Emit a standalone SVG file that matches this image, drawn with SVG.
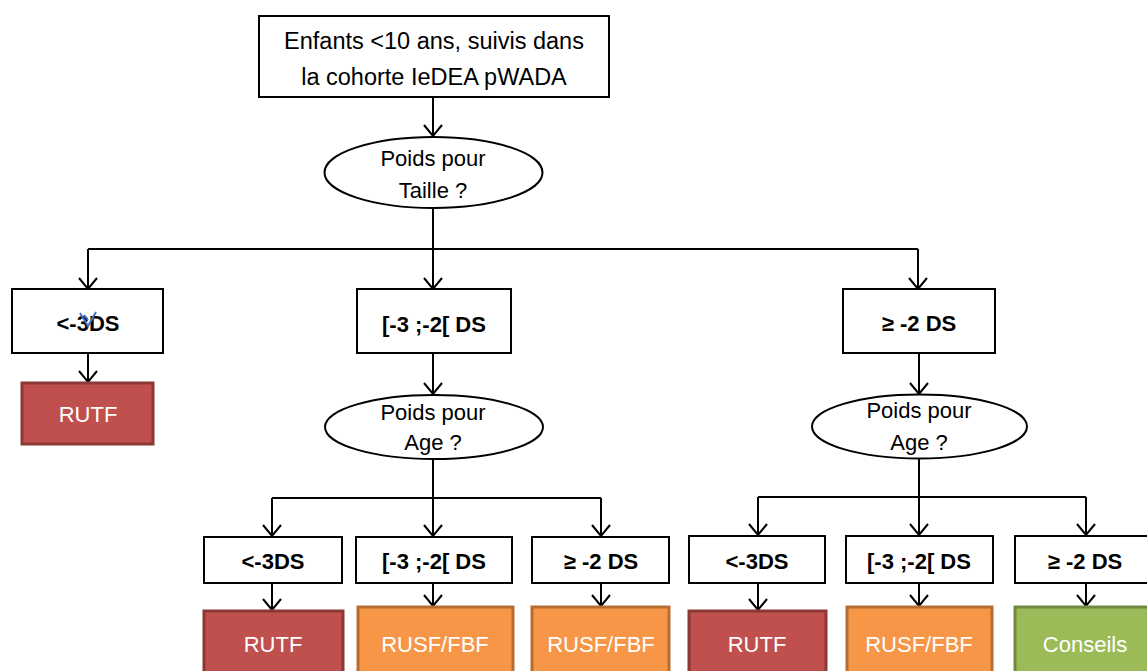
<svg xmlns="http://www.w3.org/2000/svg" width="1147" height="671" viewBox="0 0 1147 671">
<style>
.box{fill:#fff;stroke:#000;stroke-width:2}
.ell{fill:#fff;stroke:#000;stroke-width:2}
.t{font-family:"Liberation Sans",Arial,sans-serif;font-size:22px;fill:#000;text-anchor:middle}
.tl{font-family:"Liberation Sans",Arial,sans-serif;font-size:23.5px;fill:#000;text-anchor:middle}
.b{font-family:"Liberation Sans",Arial,sans-serif;font-size:22px;font-weight:bold;fill:#000;text-anchor:middle}
.w{font-family:"Liberation Sans",Arial,sans-serif;font-size:22px;fill:#fff;text-anchor:middle}
.red{fill:#C0504D;stroke:#8C3836;stroke-width:3}
.org{fill:#F79646;stroke:#B66D31;stroke-width:3}
.grn{fill:#9BBB59;stroke:#71893F;stroke-width:3}
.c{fill:none;stroke:#000;stroke-width:2}
</style>
<defs>
<marker id="arr" markerWidth="24" markerHeight="24" refX="12" refY="12" orient="auto" markerUnits="userSpaceOnUse">
<polyline points="1,3 12,12 1,21" fill="none" stroke="#000" stroke-width="2"/>
</marker>
</defs>
<rect width="1147" height="671" fill="#fff"/>
<g id="connectors">
<path class="c" d="M433,97 V136" marker-end="url(#arr)"/>
<path class="c" d="M433,208 V249"/>
<path class="c" d="M88,249 H918"/>
<path class="c" d="M88,249 V289" marker-end="url(#arr)"/>
<path class="c" d="M433,249 V289" marker-end="url(#arr)"/>
<path class="c" d="M918,249 V289" marker-end="url(#arr)"/>
<path class="c" d="M88,353 V382" marker-end="url(#arr)"/>
<path class="c" d="M433,353 V394" marker-end="url(#arr)"/>
<path class="c" d="M919,353 V394" marker-end="url(#arr)"/>
<path class="c" d="M433,459 V498"/>
<path class="c" d="M272,498 H601"/>
<path class="c" d="M272,498 V536" marker-end="url(#arr)"/>
<path class="c" d="M433,498 V536" marker-end="url(#arr)"/>
<path class="c" d="M601,498 V536" marker-end="url(#arr)"/>
<path class="c" d="M919,458 V497"/>
<path class="c" d="M758,497 H1086"/>
<path class="c" d="M758,497 V535" marker-end="url(#arr)"/>
<path class="c" d="M919,497 V535" marker-end="url(#arr)"/>
<path class="c" d="M1086,497 V535" marker-end="url(#arr)"/>
<path class="c" d="M272,583 V610" marker-end="url(#arr)"/>
<path class="c" d="M433,583 V606" marker-end="url(#arr)"/>
<path class="c" d="M601,583 V606" marker-end="url(#arr)"/>
<path class="c" d="M758,583 V610" marker-end="url(#arr)"/>
<path class="c" d="M919,583 V606" marker-end="url(#arr)"/>
<path class="c" d="M1086,583 V606" marker-end="url(#arr)"/>
</g>
<g id="start">
<rect class="box" x="259" y="16" width="350" height="81"/>
<text class="tl" x="434" y="49">Enfants &lt;10 ans, suivis dans</text>
<text class="tl" x="434" y="85">la cohorte IeDEA pWADA</text>
</g>
<g id="pt">
<ellipse class="ell" cx="433.5" cy="172.5" rx="109" ry="35.5"/>
<text class="t" x="433" y="166">Poids pour</text>
<text class="t" x="433" y="198">Taille ?</text>
</g>
<g id="pt-lt3">
<rect class="box" x="12" y="289" width="151" height="64"/>
<text class="b" x="88" y="331">&lt;-3DS</text>
<path d="M80,313 L88,326 L96,312 M84,315 L88,320" fill="none" stroke="#4472C4" stroke-width="2"/>
</g>
<g id="pt-mid">
<rect class="box" x="357" y="289" width="154" height="64"/>
<text class="b" x="434" y="332">[-3 ;-2[ DS</text>
</g>
<g id="pt-ge2">
<rect class="box" x="843" y="289" width="152" height="64"/>
<text class="b" x="919" y="331">≥ -2 DS</text>
</g>
<g id="rutf1">
<rect class="red" x="22" y="383" width="131" height="61"/>
<text class="w" x="88" y="422">RUTF</text>
</g>
<g id="pa1">
<ellipse class="ell" cx="434" cy="427" rx="109" ry="32"/>
<text class="t" x="433" y="420">Poids pour</text>
<text class="t" x="433" y="450">Age ?</text>
</g>
<g id="pa2">
<ellipse class="ell" cx="919.5" cy="426.5" rx="107.5" ry="32"/>
<text class="t" x="919" y="418">Poids pour</text>
<text class="t" x="919" y="450">Age ?</text>
</g>
<g id="a-lt3">
<rect class="box" x="204" y="537" width="138" height="46"/>
<text class="b" x="273" y="569">&lt;-3DS</text>
</g>
<g id="a-mid">
<rect class="box" x="356" y="537" width="156" height="46"/>
<text class="b" x="434" y="569">[-3 ;-2[ DS</text>
</g>
<g id="a-ge2">
<rect class="box" x="532" y="537" width="137" height="46"/>
<text class="b" x="601" y="569">≥ -2 DS</text>
</g>
<g id="b-lt3">
<rect class="box" x="689" y="536" width="136" height="47"/>
<text class="b" x="757" y="569">&lt;-3DS</text>
</g>
<g id="b-mid">
<rect class="box" x="846" y="536" width="147" height="47"/>
<text class="b" x="919" y="569">[-3 ;-2[ DS</text>
</g>
<g id="b-ge2">
<rect class="box" x="1015" y="536" width="140" height="47"/>
<text class="b" x="1085" y="569">≥ -2 DS</text>
</g>
<g id="r-a1">
<rect class="red" x="204" y="611" width="139" height="70"/>
<text class="w" x="273" y="652">RUTF</text>
</g>
<g id="r-a2">
<rect class="org" x="358" y="607" width="155" height="74"/>
<text class="w" x="435" y="652">RUSF/FBF</text>
</g>
<g id="r-a3">
<rect class="org" x="532" y="607" width="137" height="74"/>
<text class="w" x="601" y="652">RUSF/FBF</text>
</g>
<g id="r-b1">
<rect class="red" x="689" y="611" width="137" height="70"/>
<text class="w" x="757" y="652">RUTF</text>
</g>
<g id="r-b2">
<rect class="org" x="847" y="607" width="145" height="74"/>
<text class="w" x="919" y="652">RUSF/FBF</text>
</g>
<g id="r-b3">
<rect class="grn" x="1015" y="607" width="140" height="74"/>
<text class="w" x="1085" y="652">Conseils</text>
</g>
</svg>
